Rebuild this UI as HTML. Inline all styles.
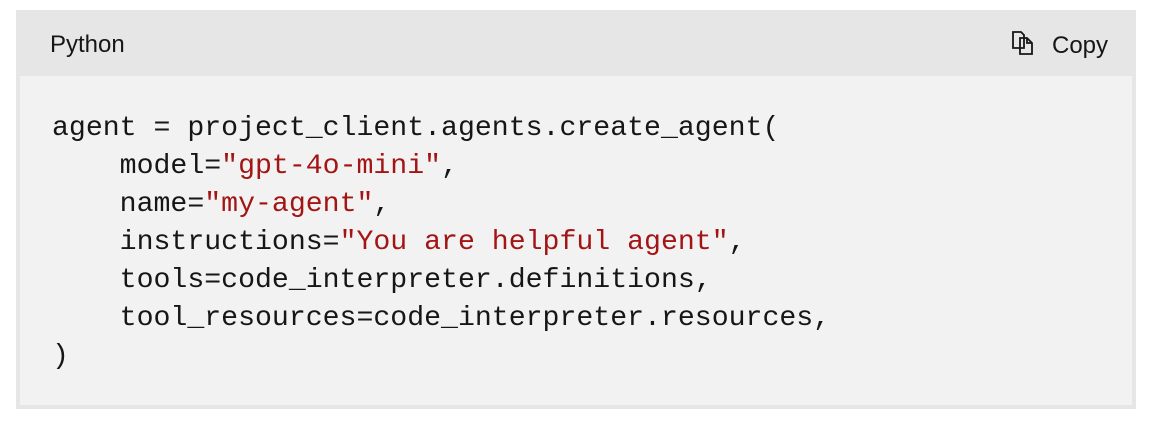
<!DOCTYPE html>
<html><head><style>
html,body{margin:0;padding:0;background:#fff;width:1150px;height:426px;overflow:hidden}
.box{position:absolute;left:16px;top:10px;width:1120px;height:399px;background:#e6e6e6}
.hdr{position:absolute;top:31px;font:24px "Liberation Sans","DejaVu Sans",sans-serif;color:#161616}
.copy{position:absolute;left:1052px;top:32px;font:24px "Liberation Sans","DejaVu Sans",sans-serif;color:#161616}
.code{position:absolute;left:20px;top:76px;width:1112px;height:329px;background:#f2f2f2}
pre{position:absolute;left:52px;top:110px;margin:0;font:28.2px/38px "Liberation Mono","DejaVu Sans Mono",monospace;color:#161616}
.s{color:#a31515}
</style></head><body>
<div class="box"></div>
<div class="hdr" style="left:50px">Python</div>
<svg style="position:absolute;left:1011px;top:30px" width="26" height="26" viewBox="0 0 26 26" fill="none" stroke="#161616" stroke-width="1.8">
<path d="M2 2h8l3 3v13H2z"/><path d="M9 8h7l5 5v11H9z"/><path d="M16 8v5h5"/>
</svg>
<div class="copy">Copy</div>
<div class="code"></div>
<pre>agent = project_client.agents.create_agent(
    model=<span class="s">"gpt-4o-mini"</span>,
    name=<span class="s">"my-agent"</span>,
    instructions=<span class="s">"You are helpful agent"</span>,
    tools=code_interpreter.definitions,
    tool_resources=code_interpreter.resources,
)</pre>
</body></html>
